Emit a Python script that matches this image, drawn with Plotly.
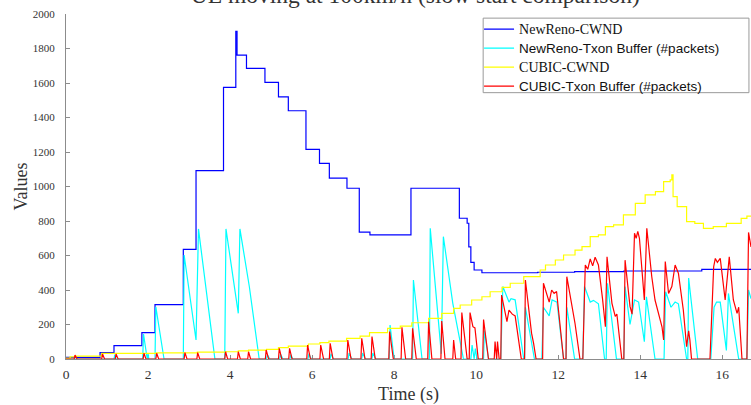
import plotly.graph_objects as go

# ---------------- data ----------------
title_text = "UE moving at 100km/h (slow start comparison)"

# NewReno congestion window (step function, value held until next time)
newreno_cwnd_t = [0, 0.83, 1.17, 1.85, 2.17, 2.86, 3.17, 3.84, 4.14, 4.17, 4.40, 4.85, 5.18, 5.42,
                  5.85, 6.18, 6.42, 6.85, 7.15, 7.41, 8.41, 9.59, 9.78, 9.82, 9.87, 9.95, 10.14,
                  11.5, 12.4, 13.6, 15.5, 16.7]
newreno_cwnd_v = [10, 37, 77, 153, 315, 636, 1092, 1575, 1900, 1762, 1685, 1604, 1520, 1439,
                  1215, 1134, 1049, 990, 735, 719, 990, 816, 787, 650, 560, 516, 500,
                  503, 507, 510, 519, 520]

# NewReno transmission buffer (#packets)
newreno_buf_t = [0, 1.17, 1.19, 1.22, 1.87, 1.89, 1.98, 2.00, 2.02, 2.17, 2.19, 2.39,
                 2.86, 2.88, 3.17, 3.23, 3.63, 3.87, 3.90, 4.20, 4.24, 4.47, 4.71,
                 4.89, 4.91, 4.97, 5.21, 5.23, 5.29, 5.46, 5.48, 5.53, 5.90, 5.92, 5.98,
                 6.44, 6.46, 6.52, 6.88, 6.90, 6.97, 7.21, 7.23, 7.30, 7.46, 7.48, 7.55,
                 7.88, 7.90, 8.00, 8.45, 8.47, 8.68, 8.86, 8.88, 9.15, 9.20, 9.43, 9.69,
                 9.87, 9.90, 9.95, 9.98, 10.02, 10.18, 10.20, 10.30,
                 10.60, 10.65, 10.80, 10.85, 10.95, 11.16, 11.18, 11.20, 11.42,
                 11.60, 11.64, 11.78, 11.85, 11.97, 12.13, 12.19, 12.21, 12.40,
                 12.60, 12.64, 12.78, 12.86, 12.98, 13.13, 13.17, 13.20, 13.42,
                 13.60, 13.63, 13.75, 13.86, 13.96, 14.10, 14.15, 14.36,
                 14.58, 14.62, 14.75, 14.85, 14.93, 15.13, 15.16, 15.18, 15.40,
                 15.72, 15.80, 15.86, 15.95, 16.10, 16.15, 16.40, 16.60, 16.64, 16.70]
newreno_buf_v = [0, 0, 25, 0, 0, 145, 0, 30, 0, 0, 303, 0,
                 0, 603, 110, 754, 0, 0, 754, 265, 754, 419, 0,
                 0, 25, 0, 0, 28, 0, 0, 25, 0, 0, 30, 0,
                 0, 30, 0, 0, 35, 0, 0, 35, 0, 0, 35, 0,
                 0, 197, 0, 0, 458, 0, 0, 758, 30, 709, 323, 0,
                 0, 81, 0, 60, 0, 0, 164, 0,
                 0, 420, 330, 350, 343, 0, 0, 300, 0,
                 0, 300, 250, 343, 330, 0, 0, 300, 0,
                 0, 420, 330, 340, 320, 0, 0, 439, 0,
                 0, 420, 200, 342, 330, 100, 360, 0,
                 0, 390, 300, 330, 320, 0, 0, 469, 0,
                 0, 300, 330, 330, 50, 380, 0, 0, 400, 350]

# CUBIC congestion window (step function)
cubic_cwnd_t = [0, 0.10, 0.22, 0.87, 2.20, 3.20, 3.89, 4.20, 4.45, 4.89, 5.18, 5.42, 5.91, 6.19,
                6.41, 6.84, 7.17, 7.40, 7.84, 8.15, 8.43, 8.84, 9.16, 9.45, 9.61, 9.89, 10.14,
                10.34, 10.63, 10.83, 11.16, 11.56, 11.69, 11.93, 12.13, 12.41, 12.58, 12.78,
                12.98, 13.15, 13.35, 13.59, 13.88, 14.12, 14.37, 14.57, 14.73, 14.77, 14.80,
                14.90, 15.13, 15.33, 15.54, 15.78, 16.10, 16.46, 16.60, 16.70]
cubic_cwnd_v = [5, 12, 17, 33, 36, 40, 42, 47, 52, 56, 66, 75, 87, 95,
                104, 120, 133, 153, 178, 191, 210, 236, 264, 294, 313, 342, 361,
                390, 415, 439, 477, 516, 545, 574, 603, 631, 651, 709,
                719, 767, 777, 835, 902, 951, 970, 1028, 1038, 1067, 941,
                883, 796, 786, 757, 767, 786, 815, 828, 828]

# CUBIC transmission buffer (#packets)
cubic_buf_t = [0, 0.20, 0.22, 0.27, 0.87, 0.89, 0.94, 1.20, 1.22, 1.27, 1.88, 1.90, 1.95,
               2.19, 2.21, 2.26, 2.88, 2.90, 2.95, 3.19, 3.21, 3.26, 3.87, 3.89, 3.94,
               4.18, 4.20, 4.25, 4.43, 4.45, 4.50, 4.86, 4.88, 4.94, 5.18, 5.20, 5.26,
               5.43, 5.45, 5.51, 5.87, 5.89, 5.96, 6.19, 6.21, 6.28, 6.42, 6.44, 6.51,
               6.85, 6.87, 6.95, 7.19, 7.21, 7.29, 7.44, 7.46, 7.54, 7.87, 7.89, 7.98,
               8.17, 8.19, 8.28, 8.43, 8.45, 8.54, 8.82, 8.84, 8.92, 9.14, 9.16, 9.24,
               9.43, 9.45, 9.50, 9.63, 9.65, 9.78, 9.83, 9.85, 9.92, 9.97, 10.05,
               10.16, 10.18, 10.30, 10.44, 10.46, 10.50, 10.52, 10.56,
               10.60, 10.62, 10.75, 10.80, 10.88, 10.95, 11.10,
               11.18, 11.20, 11.35, 11.40, 11.46,
               11.62, 11.64, 11.78, 11.84, 11.90, 11.96, 12.13,
               12.19, 12.21, 12.41, 12.53,
               12.60, 12.66, 12.72, 12.78, 12.84, 12.90, 12.98, 13.08, 13.15, 13.19, 13.31,
               13.39, 13.43, 13.55,
               13.60, 13.63, 13.75, 13.80, 13.86, 13.90, 13.94, 13.98, 14.04, 14.10, 14.16,
               14.28, 14.36, 14.45, 14.53, 14.57, 14.61, 14.69, 14.77, 14.85, 14.93, 15.05,
               15.13, 15.18, 15.21, 15.25,
               15.70, 15.79, 15.83, 15.88, 15.95, 16.07, 16.17, 16.27, 16.36, 16.40, 16.48,
               16.60, 16.64, 16.70]
cubic_buf_v = [0, 0, 23, 0, 0, 29, 0, 0, 29, 0, 0, 33, 0,
               0, 33, 0, 0, 37, 0, 0, 37, 0, 0, 42, 0,
               0, 42, 0, 0, 42, 0, 0, 52, 0, 0, 62, 0,
               0, 62, 0, 0, 81, 0, 0, 81, 0, 0, 91, 0,
               0, 110, 0, 0, 120, 0, 0, 130, 0, 0, 159, 0,
               0, 184, 0, 0, 178, 0, 0, 216, 0, 0, 220, 0,
               0, 110, 0, 0, 269, 0, 0, 269, 187, 180, 0,
               0, 229, 0, 0, 101, 0, 101, 0,
               0, 371, 216, 284, 260, 250, 0,
               0, 458, 150, 90, 0,
               0, 439, 330, 400, 380, 391, 0,
               0, 477, 206, 0,
               0, 545, 520, 580, 540, 590, 545, 350, 187, 592, 323,
               247, 260, 0,
               0, 573, 305, 260, 729, 700, 740, 700, 516, 342, 758,
               478, 342, 264, 187, 110, 565, 380, 420, 545, 497, 284,
               72, 164, 110, 0,
               0, 535, 583, 560, 583, 342, 592, 342, 264, 300, 0,
               0, 734, 650]

series_names = ["NewReno-CWND", "NewReno-Txon Buffer (#packets)",
                "CUBIC-CWND", "CUBIC-Txon Buffer (#packets)"]
series_colors = ["#0000ff", "#00ffff", "#ffff00", "#ff0000"]

x_ticks = [0, 2, 4, 6, 8, 10, 12, 14, 16]
y_ticks = [0, 200, 400, 600, 800, 1000, 1200, 1400, 1600, 1800, 2000]

# ---------------- figure ----------------
SERIF = "Liberation Serif"
SANS = "Liberation Sans"

def legend_label(name, serif):
    if serif:
        return f'<span style="font-family:{SERIF}; font-size:14px">{name}</span>'
    return f'<span style="font-size:13.5px">{name}</span>'

LW = 1.2
fig = go.Figure()
fig.add_trace(go.Scatter(x=newreno_cwnd_t, y=newreno_cwnd_v, mode="lines",
                         line=dict(color=series_colors[0], width=LW, shape="hv"),
                         name=legend_label(series_names[0], True)))
fig.add_trace(go.Scatter(x=newreno_buf_t, y=newreno_buf_v, mode="lines",
                         line=dict(color=series_colors[1], width=LW),
                         name=legend_label(series_names[1], False)))
fig.add_trace(go.Scatter(x=cubic_cwnd_t, y=cubic_cwnd_v, mode="lines",
                         line=dict(color=series_colors[2], width=LW, shape="hv"),
                         name=legend_label(series_names[2], True)))
fig.add_trace(go.Scatter(x=cubic_buf_t, y=cubic_buf_v, mode="lines",
                         line=dict(color=series_colors[3], width=LW),
                         name=legend_label(series_names[3], False)))

axis_color = "#8c8c8c"
text_color = "#333333"

fig.update_layout(
    width=751, height=405,
    margin=dict(l=66, r=0, t=14, b=46),
    paper_bgcolor="white", plot_bgcolor="white",
    title=dict(text=title_text, font=dict(family=SERIF, size=23.5, color=text_color),
               x=0.553, xref="container", xanchor="center",
               y=1.0, yref="paper", yanchor="bottom", pad=dict(b=11)),
    xaxis=dict(range=[0, 16.7], tickvals=x_ticks, showgrid=False, zeroline=False,
               showline=True, linecolor=axis_color, linewidth=1,
               ticks="inside", ticklen=4, tickcolor=axis_color, layer="below traces",
               tickfont=dict(family=SERIF, size=13.5, color=text_color),
               ticklabelstandoff=3,
               title=dict(text="Time (s)", font=dict(family=SERIF, size=18, color=text_color),
                          standoff=6)),
    yaxis=dict(range=[0, 2000], tickvals=y_ticks, showgrid=False, zeroline=False,
               showline=True, linecolor=axis_color, linewidth=1,
               ticks="inside", ticklen=4, tickcolor=axis_color, layer="below traces",
               tickfont=dict(family=SERIF, size=11, color=text_color),
               ticklabelstandoff=8,
               title=dict(text="Values", font=dict(family=SERIF, size=18, color=text_color),
                          standoff=0)),
    legend=dict(x=0.603, y=0.998, xanchor="left", yanchor="top",
                bgcolor="rgba(0,0,0,0)", borderwidth=0,
                font=dict(family=SANS, size=12, color="#111111"),
                tracegroupgap=0),
    showlegend=True,
    shapes=[dict(type="rect", xref="paper", yref="paper",
                 x0=0.609, x1=0.997, y0=0.772, y1=0.988,
                 line=dict(color="#999999", width=1), fillcolor="white", layer="above")],
)

fig.write_html("out.html", config={"displayModeBar": False},
               post_script="document.body.style.margin='0';")
